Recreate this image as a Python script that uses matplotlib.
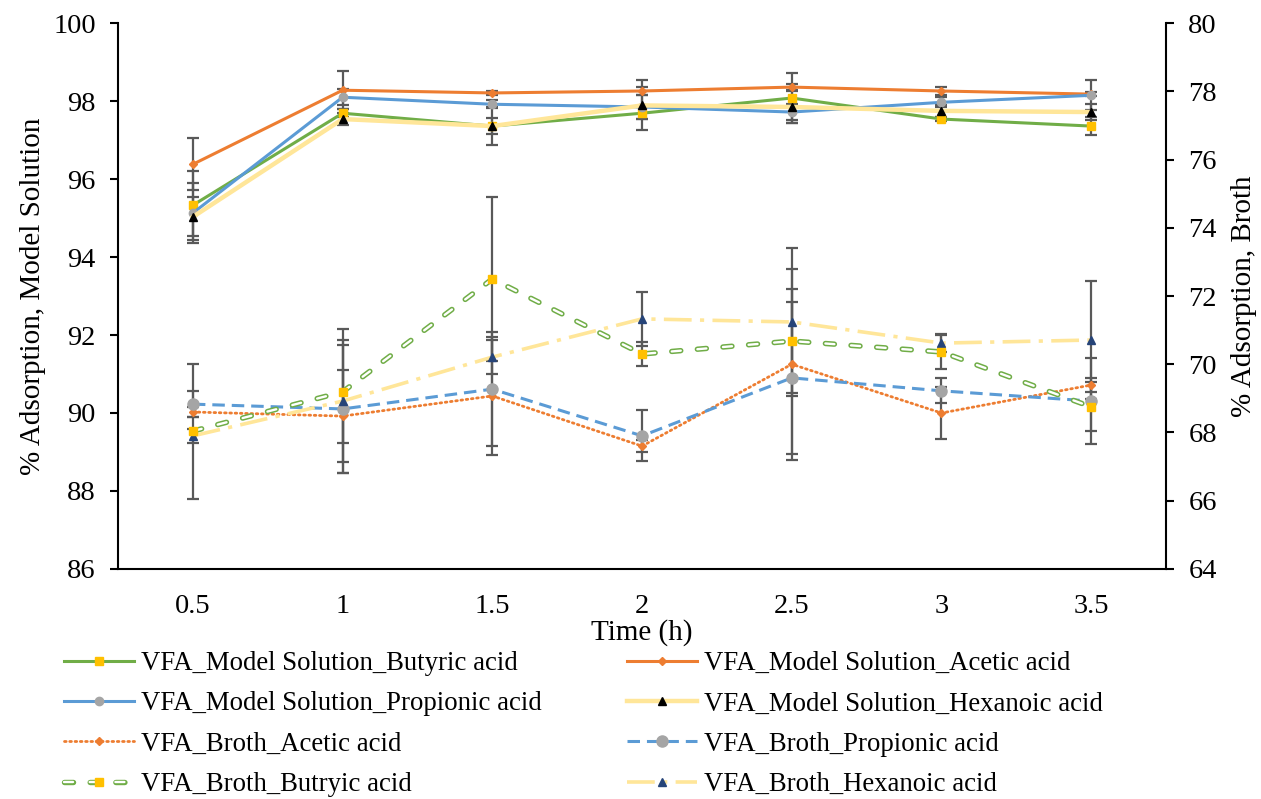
import matplotlib
matplotlib.use("Agg")
import matplotlib.pyplot as plt
import matplotlib.patheffects as pe

plt.rcParams['font.family'] = ['Liberation Serif', 'DejaVu Serif']
plt.rcParams['lines.scale_dashes'] = False

times = ['0.5', '1', '1.5', '2', '2.5', '3', '3.5']

# model solution (left axis)
ms_butyric = [95.33, 97.69, 97.36, 97.69, 98.08, 97.54, 97.36]
ms_butyric_err = [0.88, 0.10, 0.20, 0.15, 0.64, 0.05, 0.23]
ms_acetic = [96.38, 98.28, 98.21, 98.26, 98.36, 98.26, 98.18]
ms_acetic_err = [0.67, 0.49, 0.05, 0.10, 0.08, 0.10, 0.05]
ms_propionic = [95.13, 98.10, 97.92, 97.85, 97.72, 97.97, 98.15]
ms_propionic_err = [0.77, 0.20, 0.10, 0.32, 0.20, 0.13, 0.38]
ms_hexanoic = [95.03, 97.54, 97.36, 97.89, 97.85, 97.75, 97.72]
ms_hexanoic_err = [0.50, 0.15, 0.49, 0.64, 0.41, 0.15, 0.20]

# broth (right axis)
br_acetic = [68.60, 68.48, 69.07, 67.60, 70.00, 68.57, 69.39]
br_acetic_err = [0.15, 1.35, 1.74, 0.18, 2.80, 0.76, 0.20]
br_propionic = [68.83, 68.69, 69.27, 67.90, 69.60, 69.22, 68.92]
br_propionic_err = [0.38, 1.88, 1.68, 0.75, 2.23, 0.37, 1.25]
br_butyric = [68.04, 69.19, 72.50, 70.30, 70.68, 70.36, 68.75]
br_butyric_err = [1.98, 1.51, 2.40, 0.35, 1.52, 0.51, 0.72]
br_hexanoic = [67.90, 68.92, 70.21, 71.33, 71.24, 70.62, 70.71]
br_hexanoic_err = [0.20, 2.12, 0.50, 0.79, 2.17, 0.27, 1.73]

GREEN = '#70AD47'
ORANGE = '#ED7D31'
BLUE = '#5B9BD5'
LIGHT = '#FFE699'
GOLD = '#FFC000'
GRAY = '#A5A5A5'
NAVY = '#264478'
ERR = '#595959'

fig, ax = plt.subplots(figsize=(12.61, 7.99), dpi=100)
fig.subplots_adjust(left=0.0936, right=0.9247, top=0.971, bottom=0.288)
ax2 = ax.twinx()
x = list(range(len(times)))


def err(axis, vals, e):
    axis.errorbar(x, vals, yerr=e, fmt='none', ecolor=ERR, elinewidth=1.6,
                  capsize=4.5, capthick=1.6, zorder=1)


for vals, e in [(ms_butyric, ms_butyric_err), (ms_acetic, ms_acetic_err),
                (ms_propionic, ms_propionic_err), (ms_hexanoic, ms_hexanoic_err)]:
    err(ax, vals, e)
for vals, e in [(br_acetic, br_acetic_err), (br_propionic, br_propionic_err),
                (br_butyric, br_butyric_err), (br_hexanoic, br_hexanoic_err)]:
    err(ax2, vals, e)

h_ms_but, = ax.plot(x, ms_butyric, color=GREEN, lw=2.2, marker='s', ms=5.5,
                    mfc=GOLD, mec=GOLD, zorder=3)
h_ms_ace, = ax.plot(x, ms_acetic, color=ORANGE, lw=2.2, marker='D', ms=4,
                    mfc=ORANGE, mec=ORANGE, zorder=3)
h_ms_pro, = ax.plot(x, ms_propionic, color=BLUE, lw=2.2, marker='o', ms=6,
                    mfc=GRAY, mec=GRAY, zorder=3)
h_ms_hex, = ax.plot(x, ms_hexanoic, color=LIGHT, lw=3.2, marker='^', ms=6,
                    mfc='black', mec='black', zorder=3)

h_br_ace, = ax2.plot(x, br_acetic, color=ORANGE, lw=2.0, dashes=(1.2, 2.6),
                     dash_capstyle='round', marker='D', ms=4, mfc=ORANGE, mec=ORANGE,
                     zorder=3)
h_br_pro, = ax2.plot(x, br_propionic, color=BLUE, lw=2.2, dashes=(9, 5),
                     marker='o', ms=8, mfc=GRAY, mec=GRAY, zorder=3)
but_line, = ax2.plot(x, br_butyric, color='white', lw=1.7, dashes=(6.5, 12),
                     dash_capstyle='round', zorder=3,
                     path_effects=[pe.Stroke(linewidth=3.9, foreground=GREEN), pe.Normal()])
but_mark, = ax2.plot(x, br_butyric, ls='none', marker='s', ms=5.5, mfc=GOLD,
                     mec=GOLD, zorder=4)
h_br_hex, = ax2.plot(x, br_hexanoic, color=LIGHT, lw=2.6, dashes=(20, 6, 3, 6),
                     marker='^', ms=6, mfc=NAVY, mec=NAVY, zorder=3)

ax.set_xlim(-0.5, len(times) - 0.5)
ax.set_xticks(x)
ax.set_xticklabels(times)
ax.set_ylim(86, 100)
ax.set_yticks(range(86, 101, 2))
ax2.set_ylim(64, 80)
ax2.set_yticks(range(64, 81, 2))

for a in (ax, ax2):
    a.spines['top'].set_visible(False)
    for s in a.spines.values():
        s.set_linewidth(1.5)
ax.spines['right'].set_visible(False)
ax2.spines['left'].set_visible(False)
ax2.spines['bottom'].set_visible(False)

ax.tick_params(axis='x', length=0, pad=18, labelsize=20.5)
ax.tick_params(axis='y', length=6, width=1.5, pad=10, labelsize=20.5)
ax2.tick_params(axis='y', length=6, width=1.5, pad=10, labelsize=20.5)

ax.set_xlabel('Time (h)', fontsize=21, labelpad=0)
ax.set_ylabel('% Adsorption, Model Solution', fontsize=21, labelpad=5)
ax2.set_ylabel('% Adsorption, Broth', fontsize=21, labelpad=10, rotation=90)

handles = [h_ms_but, h_ms_pro, h_br_ace, (but_line, but_mark),
           h_ms_ace, h_ms_hex, h_br_pro, h_br_hex]
labels = ['VFA_Model Solution_Butyric acid', 'VFA_Model Solution_Propionic acid',
          'VFA_Broth_Acetic acid', 'VFA_Broth_Butryic acid',
          'VFA_Model Solution_Acetic acid', 'VFA_Model Solution_Hexanoic acid',
          'VFA_Broth_Propionic acid', 'VFA_Broth_Hexanoic acid']
ax2.legend(handles, labels, ncol=2, loc='upper left', bbox_to_anchor=(0.051, 0.185),
           bbox_transform=fig.transFigure, frameon=False, fontsize=19.3,
           handlelength=2.6, handletextpad=0.25, columnspacing=3.2,
           labelspacing=0.57, borderpad=0, borderaxespad=0)

fig.savefig('out.png', dpi=100)
